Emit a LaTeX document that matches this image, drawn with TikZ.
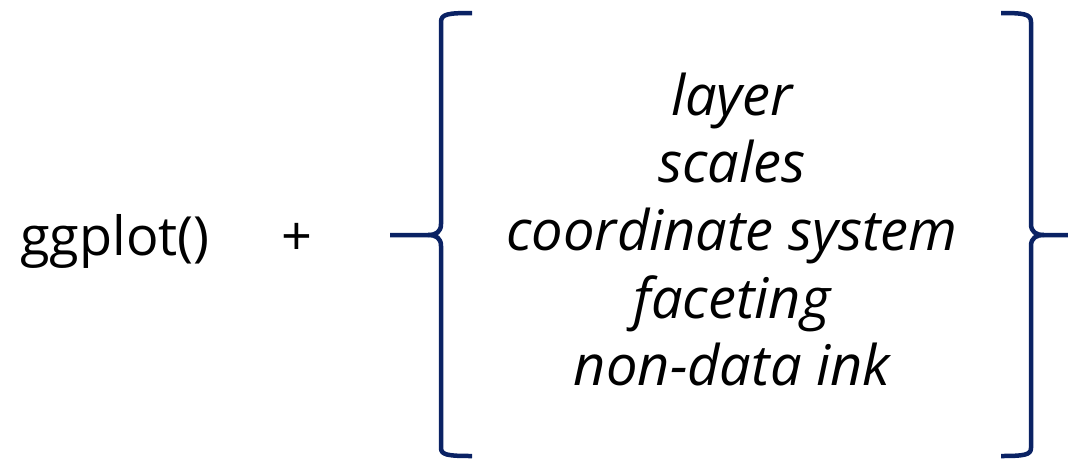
\documentclass[tikz,border=0pt]{standalone}
\usepackage{fontspec}
\setmainfont{Open Sans}
\definecolor{bracenavy}{HTML}{0A2264}
\begin{document}
\begin{tikzpicture}[x=1pt,y=-1pt,
  bracestyle/.style={draw=bracenavy,line width=4.5pt,line cap=butt,line join=round},
  item/.style={font=\fontsize{56}{62}\selectfont\itshape,anchor=base,inner sep=0pt},
  main/.style={font=\fontsize{54}{60}\selectfont,anchor=base,inner sep=0pt}]
\useasboundingbox (0,0) rectangle (1068,459);
\node[main] (gg) at (115,255) {ggplot()};
\node[main] (plus) at (297,255) {+};
\node[item] (l1) at (732,115) {layer};
\node[item] (l2) at (732,182) {scales};
\node[item] (l3) at (732,250) {coordinate system};
\node[item] (l4) at (732,318) {faceting};
\node[item] (l5) at (732,385) {non-data ink};
% left brace
\coordinate (ltip) at (390,235);
\draw[bracestyle] (472,13) .. controls (448,13) and (441,14) .. (441,22)
  -- (441,224) .. controls (441,232) and (436,235) .. (428,235) -- (ltip);
\draw[bracestyle] (428,235) .. controls (436,235) and (441,238) .. (441,246)
  -- (441,448) .. controls (441,455) and (448,456) .. (472,456);
% right brace
\coordinate (rtip) at (1068,235);
\draw[bracestyle] (1001,13) .. controls (1024,13) and (1031,14) .. (1031,22)
  -- (1031,224) .. controls (1031,232) and (1036,235) .. (1044,235) -- (rtip);
\draw[bracestyle] (1044,235) .. controls (1036,235) and (1031,238) .. (1031,246)
  -- (1031,448) .. controls (1031,455) and (1024,456) .. (1001,456);
\end{tikzpicture}
\end{document}
